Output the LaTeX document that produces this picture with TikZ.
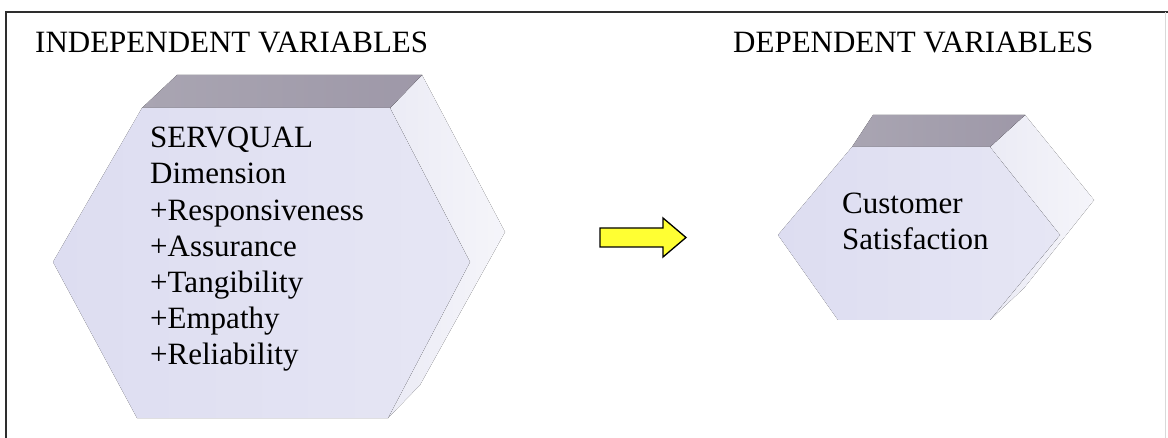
\documentclass[tikz,border=0pt]{standalone}
\usepackage{fontspec}
\setmainfont{Liberation Serif}
\definecolor{framegrey}{HTML}{2E2E2E}
\definecolor{hexfrontL}{HTML}{DDDDF1}
\definecolor{hexfrontR}{HTML}{E6E6F4}
\definecolor{hextopL}{HTML}{A9A5B2}
\definecolor{hextopR}{HTML}{9E98A8}
\definecolor{hexsideL}{HTML}{EBEBF5}
\definecolor{hexsideR}{HTML}{F5F5FA}
\definecolor{arrowyellow}{HTML}{FFFF33}
\begin{document}
\begin{tikzpicture}[x=1pt,y=-1pt,
  frontface/.style={left color=hexfrontL,right color=hexfrontR},
  topface/.style={left color=hextopL,right color=hextopR},
  sideface/.style={left color=hexsideL,right color=hexsideR},
  txt/.style={font=\fontsize{31}{36.2}\selectfont,inner sep=0pt,align=left,text=black},
  blockarrow/.style={fill=arrowyellow,draw=black,line width=1.3pt,line join=miter}]
\useasboundingbox (0,0) rectangle (1168,438);
\fill[white] (0,0) rectangle (1168,438);

% outer frame
\draw[line width=2pt,framegrey] (6,438) -- (6,12) -- (1168,12);
\draw[line width=0.8pt,black!15] (1165,12) -- (1165,438);

% column headings
\node[txt,anchor=base west] (indep) at (35,53) {INDEPENDENT VARIABLES};
\node[txt,anchor=base west] (dep) at (733,53) {DEPENDENT VARIABLES};

% large hexagonal block
\fill[sideface] (390,108) -- (422,75) -- (505,232) -- (420,385) -- (388,418) -- (470,262) -- cycle;
\fill[topface] (142,108) -- (390,108) -- (422,75) -- (177,75) -- cycle;
\fill[frontface] (142,108) -- (390,108) -- (470,262) -- (388,418) -- (137,418) -- (53,262) -- cycle;
\node[txt,anchor=base west] (servqual) at (150,365)
  {SERVQUAL\\Dimension\\+Responsiveness\\+Assurance\\+Tangibility\\+Empathy\\+Reliability};

% small hexagonal block
\fill[sideface] (990,147) -- (1025,115) -- (1094,200) -- (1024,288) -- (990,320) -- (1060,235) -- cycle;
\fill[topface] (852,147) -- (990,147) -- (1025,115) -- (873,115) -- cycle;
\fill[frontface] (852,147) -- (990,147) -- (1060,235) -- (990,320) -- (838,320) -- (778,235) -- cycle;
\node[txt,anchor=base west] (satisf) at (842,250) {Customer\\Satisfaction};

% block arrow between the two blocks
\draw[blockarrow] (600,228) -- (663,228) -- (663,218) -- (686,237.5) -- (663,257) -- (663,247) -- (600,247) -- cycle;
\end{tikzpicture}
\end{document}
